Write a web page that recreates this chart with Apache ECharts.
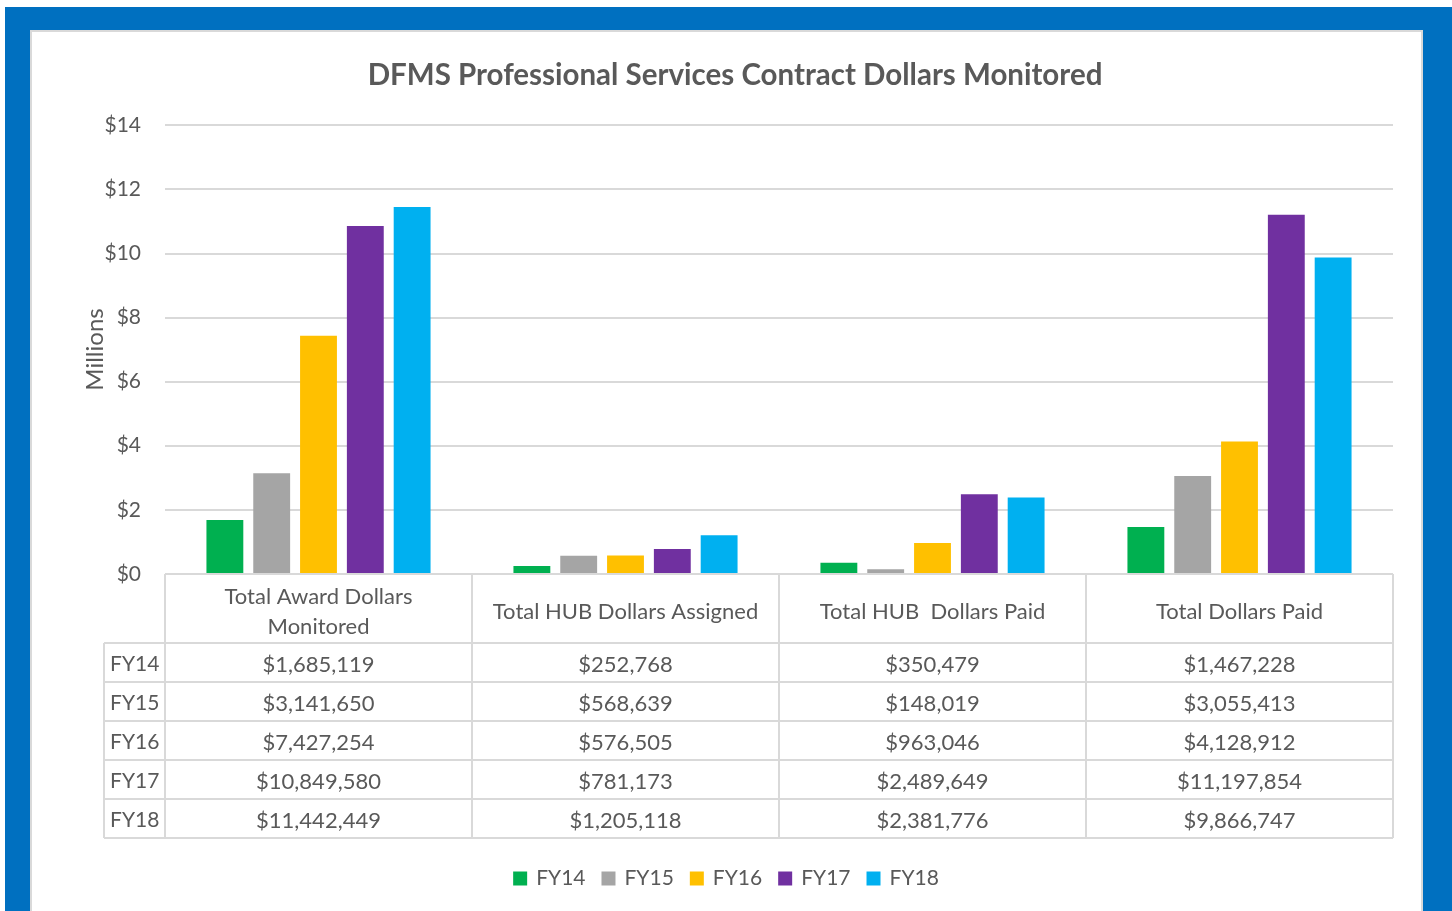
<!DOCTYPE html>
<html>
<head>
<meta charset="utf-8">
<script src="https://cdn.jsdelivr.net/npm/echarts@6/dist/echarts.min.js"></script>
<style>
  html, body { margin: 0; padding: 0; background: #fff; }
  #chart { width: 1452px; height: 911px; }
</style>
</head>
<body>
<div id="chart"></div>
<script>
// categories and values (dollars)
const categories = ['Total Award Dollars\nMonitored', 'Total HUB Dollars Assigned', 'Total HUB  Dollars Paid', 'Total Dollars Paid']
const years = ['FY14', 'FY15', 'FY16', 'FY17', 'FY18']
const fy14 = [1685119, 252768, 350479, 1467228]
const fy15 = [3141650, 568639, 148019, 3055413]
const fy16 = [7427254, 576505, 963046, 4128912]
const fy17 = [10849580, 781173, 2489649, 11197854]
const fy18 = [11442449, 1205118, 2381776, 9866747]
const yTicks = [0, 2, 4, 6, 8, 10, 12, 14] // millions

const colors = ['#00B050', '#A5A5A5', '#FFC000', '#7030A0', '#00B0F0']
const textColor = '#595959'
const lineColor = '#D9D9D9'
const font = 'Lato'

// plot area in pixels
const plotLeft = 165
const plotRight = 1393
const plotTop = 125
const plotBottom = 574
const headerBottom = 643
const rowH = 39
const rowHeadLeft = 104

const allSeries = [fy14, fy15, fy16, fy17, fy18]

const chart = echarts.init(document.getElementById('chart'))

function fmt(v) {
  return '$' + v.toLocaleString('en-US')
}

// data table under the plot, drawn as graphic elements
function buildTable() {
  const els = []
  const colW = (plotRight - plotLeft) / categories.length
  const tableBottom = headerBottom + rowH * years.length
  const line = (x1, y1, x2, y2) => ({
    type: 'line',
    shape: { x1, y1, x2, y2 },
    style: { stroke: lineColor, lineWidth: 2 },
    z: 5
  })
  els.push(line(plotLeft, plotBottom, plotRight, plotBottom))
  for (let i = 0; i <= years.length; i++) {
    const y = headerBottom + rowH * i
    els.push(line(rowHeadLeft, y, plotRight, y))
  }
  els.push(line(rowHeadLeft, headerBottom, rowHeadLeft, tableBottom))
  for (let c = 0; c <= categories.length; c++) {
    const x = plotLeft + colW * c
    els.push(line(x, plotBottom, x, tableBottom))
  }
  categories.forEach((name, c) => {
    els.push({
      type: 'text',
      x: plotLeft + colW * (c + 0.5),
      y: (plotBottom + headerBottom) / 2 + 3,
      style: {
        text: name,
        fill: textColor,
        font: '22px ' + font,
        align: 'center',
        verticalAlign: 'middle',
        lineHeight: 30
      },
      z: 6
    })
  })
  years.forEach((yr, r) => {
    const cy = headerBottom + rowH * (r + 0.5) + 2
    els.push({
      type: 'text',
      x: rowHeadLeft + 6,
      y: cy,
      style: { text: yr, fill: textColor, font: '21px ' + font, align: 'left', verticalAlign: 'middle' },
      z: 6
    })
    allSeries[r].forEach((v, c) => {
      els.push({
        type: 'text',
        x: plotLeft + colW * (c + 0.5),
        y: cy,
        style: { text: fmt(v), fill: textColor, font: '22px ' + font, align: 'center', verticalAlign: 'middle' },
        z: 6
      })
    })
  })
  return els
}

const frame = [
  { type: 'rect', shape: { x: 5, y: 7, width: 1447, height: 904 }, style: { fill: '#0070C0' }, z: -10 },
  { type: 'rect', shape: { x: 31, y: 31, width: 1391, height: 890 }, style: { fill: '#fff', stroke: lineColor, lineWidth: 2 }, z: -9 }
]

chart.setOption({
  animation: false,
  textStyle: { fontFamily: font },
  title: {
    text: 'DFMS Professional Services Contract Dollars Monitored',
    left: 730,
    textAlign: 'center',
    top: 55,
    textStyle: { color: textColor, fontSize: 29.5, fontWeight: 'bold', fontFamily: font }
  },
  legend: {
    data: years,
    bottom: 17,
    left: 'center',
    icon: 'rect',
    itemWidth: 14,
    itemHeight: 14,
    itemGap: 16,
    textStyle: { color: textColor, fontSize: 21, fontFamily: font, padding: [0, 0, 0, 4] }
  },
  grid: {
    left: plotLeft,
    right: 1452 - plotRight,
    top: plotTop,
    bottom: 911 - plotBottom
  },
  xAxis: {
    type: 'category',
    data: categories,
    axisLine: { show: false },
    axisTick: { show: false },
    axisLabel: { show: false }
  },
  yAxis: {
    type: 'value',
    min: 0,
    max: yTicks[yTicks.length - 1] * 1e6,
    interval: 2e6,
    name: 'Millions',
    nameLocation: 'middle',
    nameGap: 58,
    nameMoveOverlap: false,
    nameTextStyle: { color: textColor, fontSize: 24, fontFamily: font },
    axisLine: { show: false },
    axisTick: { show: false },
    axisLabel: {
      color: textColor,
      fontSize: 21,
      margin: 24,
      formatter: v => '$' + (v / 1e6)
    },
    splitLine: { lineStyle: { color: lineColor, width: 2 } }
  },
  series: years.map((yr, i) => ({
    name: yr,
    type: 'bar',
    data: allSeries[i],
    itemStyle: { color: colors[i] },
    barGap: '27%',
    barCategoryGap: '27%'
  })),
  graphic: frame.concat(buildTable())
})
</script>
</body>
</html>
